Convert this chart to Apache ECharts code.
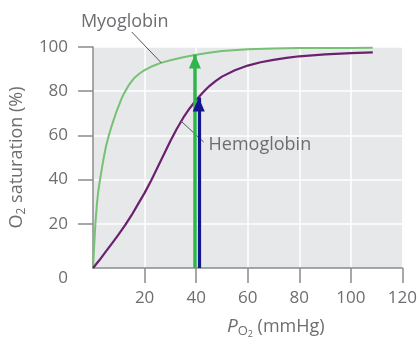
<!DOCTYPE html>
<html>
<head>
<meta charset="utf-8">
<script src="https://cdn.jsdelivr.net/npm/echarts@6/dist/echarts.min.js"></script>
<style>
  html, body { margin: 0; padding: 0; background: #ffffff; }
  #chart { width: 420px; height: 346px; }
</style>
</head>
<body>
<div id="chart"></div>
<script>
// Oxygen dissociation curves: partial pressure of O2 (mmHg) vs. saturation (%)
const myoglobinPO2 = [0, 0.25, 0.5, 0.75, 1, 1.5, 2, 2.5, 3, 4, 5, 6, 7, 8, 9, 10, 11, 12, 14, 16, 18, 20,
  23, 26, 30, 35, 40, 45, 50, 60, 70, 80, 90, 100, 108.5];
const myoglobinSat = [0, 6, 11.5, 17, 21.5, 29, 34.5, 38.5, 42, 49, 55, 59.5, 63.5, 67, 70.5, 73.5, 76.5, 79, 83, 86, 88, 89.5,
  91.3, 92.7, 94, 95.4, 96.5, 97.4, 98.2, 99, 99.3, 99.5, 99.6, 99.6, 99.7];

const hemoglobinPO2 = [0, 2.5, 5, 7.5, 10, 12.5, 15, 17.5, 20, 22.5, 25, 27.5, 30, 32.5, 35, 37.5, 40, 42.5, 45, 47.5,
  50, 55, 60, 65, 70, 75, 80, 90, 100, 108.5];
const hemoglobinSat = [0, 3.6, 7.5, 11.4, 15.3, 19.5, 24, 29, 34, 39.5, 45.5, 51.5, 57.5, 63, 68, 72.3, 76, 79.3, 82.2, 84.6,
  86.6, 89.5, 91.6, 93.1, 94.2, 95.1, 95.8, 96.7, 97.2, 97.6];

// Arrows at tissue-level pO2 (~40 mmHg), up to each curve
const arrowPO2 = [39.5, 41];
const arrowSat = [96.6, 77.2];

const curveNames = ['Myoglobin', 'Hemoglobin'];

const xTicks = [20, 40, 60, 80, 100, 120];
const yTicks = [0, 20, 40, 60, 80, 100];

const FONT = '"Open Sans", "Noto Sans", sans-serif';
const TEXT = '#6d6e71';
const AXIS = '#8a8b8d';
const LEADER = '#555555';

const zip = (xs, ys) => xs.map((x, i) => [x, ys[i]]);

const chart = echarts.init(document.getElementById('chart'), null, { renderer: 'canvas' });

chart.setOption({
  animation: false,
  backgroundColor: '#ffffff',
  textStyle: { fontFamily: FONT },
  grid: {
    left: 88.7, right: 17.3, top: 47, bottom: 78,
    show: true, backgroundColor: '#e7e8ea', borderWidth: 0
  },
  xAxis: {
    type: 'value', min: 0, max: 120, interval: 20,
    name: '{p|P}{sub|O}{sub2|2} (mmHg)',
    nameLocation: 'middle', nameGap: 46,
    nameTextStyle: {
      color: TEXT, fontSize: 18, fontFamily: FONT,
      padding: [0, 0, 0, 56],
      rich: {
        p: { fontStyle: 'italic', fontSize: 19, color: TEXT, fontFamily: FONT },
        sub: { fontSize: 13, color: TEXT, fontFamily: FONT, padding: [10, 0, 0, 0] },
        sub2: { fontSize: 9, color: TEXT, fontFamily: FONT, padding: [16, 0, 0, 0] }
      }
    },
    axisLine: { show: true, lineStyle: { color: AXIS, width: 1.5 } },
    axisTick: { show: true, length: 15, customValues: xTicks, lineStyle: { color: AXIS, width: 1.5 } },
    axisLabel: { customValues: xTicks, margin: 22, fontSize: 17, color: TEXT, fontFamily: FONT },
    splitLine: { show: true, lineStyle: { color: '#ffffff', width: 1.5 } }
  },
  yAxis: {
    type: 'value', min: 0, max: 100, interval: 20,
    name: 'O{sub|2} saturation (%)',
    nameLocation: 'middle', nameGap: 45,
    nameTextStyle: {
      color: TEXT, fontSize: 18, fontFamily: FONT,
      rich: { sub: { fontSize: 12, color: TEXT, fontFamily: FONT, padding: [10, 0, 0, 0] } }
    },
    axisLine: { show: true, lineStyle: { color: AXIS, width: 1.5 } },
    axisTick: { show: true, length: 15, customValues: yTicks.slice(1), lineStyle: { color: AXIS, width: 1.5 } },
    axisLabel: {
      margin: 25, fontSize: 17, color: TEXT, fontFamily: FONT,
      formatter: v => (v === 0 ? '{z|0}' : String(v)),
      rich: { z: { fontSize: 17, color: TEXT, fontFamily: FONT, padding: [20, 0, 0, 0] } }
    },
    splitLine: { show: true, lineStyle: { color: '#ffffff', width: 1.5 } }
  },
  series: [
    {
      name: curveNames[0],
      type: 'line',
      data: zip(myoglobinPO2, myoglobinSat),
      smooth: false,
      showSymbol: false,
      lineStyle: { color: '#76c173', width: 2, join: 'round' },
      z: 3
    },
    {
      name: curveNames[1],
      type: 'line',
      data: zip(hemoglobinPO2, hemoglobinSat),
      smooth: false,
      showSymbol: false,
      lineStyle: { color: '#6b2070', width: 2.2, join: 'round' },
      z: 3
    },
    {
      name: 'arrows',
      type: 'line',
      data: [],
      z: 5,
      markLine: {
        silent: true,
        symbol: ['none', 'triangle'],
        symbolSize: [12, 14],
        symbolOffset: [[0, 0], [0, 7]],
        label: { show: false },
        data: [
          [{ coord: [arrowPO2[0], 0], lineStyle: { color: '#2fb54a', width: 3.5, type: 'solid' }, itemStyle: { color: '#2fb54a' } },
           { coord: [arrowPO2[0], arrowSat[0]] }],
          [{ coord: [arrowPO2[1], 0], lineStyle: { color: '#14168f', width: 3.2, type: 'solid' }, itemStyle: { color: '#14168f' } },
           { coord: [arrowPO2[1], arrowSat[1]] }]
        ]
      }
    }
  ]
});

// Curve name callouts: text plus a thin leader line pointing at each curve
const px = p => chart.convertToPixel({ gridIndex: 0 }, p);
const callouts = [
  { text: curveNames[0], at: [12.3, 111.3], align: 'center', from: [15, 106.8], to: [26.5, 92.8] },
  { text: curveNames[1], at: [44.8, 55.7], align: 'left', from: [34.1, 66.5], to: [42.9, 57] }
];
const graphics = [];
callouts.forEach(c => {
  const a = px(c.from), b = px(c.to), t = px(c.at);
  graphics.push({
    type: 'line', z: 4, silent: true,
    shape: { x1: a[0], y1: a[1], x2: b[0], y2: b[1] },
    style: { stroke: LEADER, lineWidth: 1 }
  });
  graphics.push({
    type: 'text', z: 6, silent: true,
    x: t[0], y: t[1],
    style: { text: c.text, fill: TEXT, fontSize: 18, fontFamily: FONT, align: c.align, verticalAlign: 'middle' }
  });
});
chart.setOption({ graphic: graphics });
</script>
</body>
</html>
